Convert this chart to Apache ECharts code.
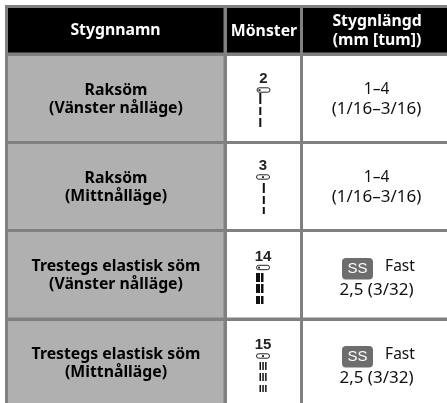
<!DOCTYPE html>
<html>
<head>
<meta charset="utf-8">
<style>
  html, body { margin: 0; padding: 0; background: #fff; }
  #main { width: 447px; height: 403px; }
</style>
<script src="https://cdn.jsdelivr.net/npm/echarts@6/dist/echarts.min.js"></script>
</head>
<body>
<div id="main"></div>
<script>
const headers = [['Stygnnamn'], ['Mönster'], ['Stygnlängd', '(mm [tum])']];
const stitchNames = ['Raksöm', 'Raksöm', 'Trestegs elastisk söm', 'Trestegs elastisk söm'];
const needlePositions = ['(Vänster nålläge)', '(Mittnålläge)', '(Vänster nålläge)', '(Mittnålläge)'];
const patternNumbers = ['2', '3', '14', '15'];
const lengthTop = ['1–4', '1–4', 'Fast', 'Fast'];
const lengthBottom = ['(1/16–3/16)', '(1/16–3/16)', '2,5 (3/32)', '2,5 (3/32)'];
const hasBadge = [false, false, true, true];

// table frame, in page pixels
const colEdges = [8, 223.5, 227, 300, 303, 447];
const rowEdges = [8, 52.5, 56, 141, 144, 229, 232, 317.5, 321, 403];
const rowTops = [56, 144, 232, 321];
const contentTops = [56, 144, 232, 320];

// stitch drawing offsets from the content top of each row
const numberY = [23, 21.5, 25, 25];
const eyeletY = [34, 33, 35.5, 36];
const singleDashes = [
  [[37, 11], [51, 8], [62, 9]],
  [[39, 10], [52, 8], [63, 7]]
];
const tripleDashes = [[41, 9], [52, 9], [64, 8]];

const BOLD = 'bold 15.8px "Noto Sans", sans-serif';
const REGULAR = '15.5px "Noto Sans", sans-serif';
const REGULAR_WIDE = '17px "Noto Sans", sans-serif';
const ARIAL = '"Liberation Sans", sans-serif';

function txt(api, x, y, text, font, fill) {
  const p = api.coord([x, y]);
  return {
    type: 'text',
    style: { x: p[0], y: p[1], text: text, font: font, fill: fill || '#000', align: 'center', verticalAlign: 'middle' }
  };
}

function box(api, x0, y0, x1, y1, fill, r) {
  const a = api.coord([x0, y0]);
  const b = api.coord([x1, y1]);
  return {
    type: 'rect',
    shape: { x: a[0], y: a[1], width: b[0] - a[0], height: b[1] - a[1], r: r || 0 },
    style: { fill: fill }
  };
}

function eyelet(api, cx, y, dotX) {
  const a = api.coord([cx - 6.5, y - 2.2]);
  return [{
    type: 'rect',
    shape: { x: a[0], y: a[1], width: 13, height: 4.4, r: 2.2 },
    style: { fill: '#fff', stroke: '#222', lineWidth: 1 }
  }, box(api, dotX - 1, y - 0.8, dotX + 1, y + 1, '#222')];
}

function drawFrame(params, api) {
  const children = [];
  // gray rules behind everything
  children.push(box(api, 5, 5, 447, 403, '#808080'));
  // header cells
  children.push(box(api, colEdges[0], rowEdges[0], colEdges[1], rowEdges[1], '#000'));
  children.push(box(api, colEdges[2], rowEdges[0], colEdges[3], rowEdges[1], '#000'));
  children.push(box(api, colEdges[4], rowEdges[0], colEdges[5], rowEdges[1], '#000'));
  children.push(txt(api, 115.5, 30.5, headers[0][0], BOLD, '#fff'));
  children.push(txt(api, 264, 31, headers[1][0], BOLD, '#fff'));
  children.push(txt(api, 377, 21, headers[2][0], BOLD, '#fff'));
  children.push(txt(api, 377, 40, headers[2][1], BOLD, '#fff'));
  return { type: 'group', children: children };
}

function drawRow(params, api) {
  const i = params.dataIndex;
  const cellTop = rowTops[i];
  const top = contentTops[i];
  const bottom = rowEdges[3 + i * 2];
  const children = [];
  children.push(box(api, colEdges[0], cellTop, colEdges[1], bottom, '#b0b0b0'));
  children.push(box(api, colEdges[2], cellTop, colEdges[3], bottom, '#fff'));
  children.push(box(api, colEdges[4], cellTop, colEdges[5], bottom, '#fff'));

  children.push(txt(api, 116, top + 34, stitchNames[i], BOLD));
  children.push(txt(api, 116, top + 52, needlePositions[i], BOLD));

  // pattern number, eyelet and stitches
  const wide = i >= 2;
  const left = i % 2 === 0;
  const cx = i === 0 ? 263.5 : 263;
  children.push(txt(api, cx, top + numberY[i], patternNumbers[i], 'bold 15px ' + ARIAL, '#222'));
  children.push(...eyelet(api, cx, top + eyeletY[i], left ? cx - 4 : cx));
  if (!wide) {
    const x = left ? 259.3 : 262.8;
    singleDashes[i].forEach(d => children.push(box(api, x, top + d[0], x + 2, top + d[0] + d[1], '#111')));
  } else if (left) {
    tripleDashes.forEach(d => {
      children.push(box(api, 256, top + d[0], 260, top + d[0] + d[1], '#111'));
      children.push(box(api, 261, top + d[0], 263.5, top + d[0] + d[1], '#111'));
    });
  } else {
    tripleDashes.forEach(d => {
      children.push(box(api, 259.5, top + d[0] + 1, 261, top + d[0] + d[1], '#111'));
      children.push(box(api, 262.3, top + d[0] + 1, 263.8, top + d[0] + d[1], '#111'));
      children.push(box(api, 265.1, top + d[0] + 1, 266.6, top + d[0] + d[1], '#111'));
    });
  }

  // stitch length
  if (hasBadge[i]) {
    children.push(box(api, 342, top + 26, 373, top + 47.5, '#6d6d6d', 4));
    children.push(txt(api, 357.5, top + 37, 'SS', '15px ' + ARIAL, '#fff'));
    children.push(txt(api, 400, top + 35, lengthTop[i], REGULAR, '#111'));
    children.push(txt(api, 376.5, top + 58, lengthBottom[i], REGULAR_WIDE, '#111'));
  } else {
    children.push(txt(api, 376.5, top + 34, lengthTop[i], REGULAR, '#111'));
    children.push(txt(api, 376.5, top + 53, lengthBottom[i], REGULAR_WIDE, '#111'));
  }
  return { type: 'group', children: children };
}

const myChart = echarts.init(document.getElementById('main'), null, { renderer: 'canvas' });

myChart.setOption({
  animation: false,
  backgroundColor: '#fff',
  grid: { left: 0, top: 0, width: 447, height: 403 },
  xAxis: { type: 'value', min: 0, max: 447, show: false },
  yAxis: { type: 'value', min: 0, max: 403, inverse: true, show: false },
  series: [
    { type: 'custom', clip: false, silent: true, coordinateSystem: 'cartesian2d', data: [[0, 0]], renderItem: drawFrame, z: 1 },
    { type: 'custom', clip: false, silent: true, coordinateSystem: 'cartesian2d', data: patternNumbers.map((n, i) => [0, rowTops[i]]), renderItem: drawRow, z: 2 }
  ]
});
</script>
</body>
</html>
